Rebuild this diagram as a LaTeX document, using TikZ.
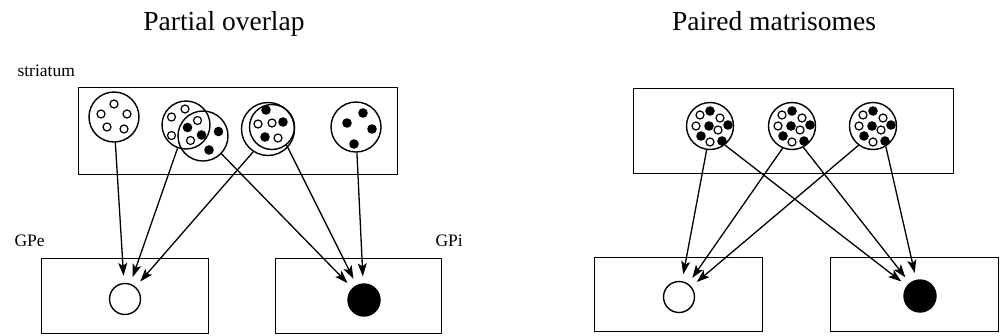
\documentclass[tikz,border=0pt]{standalone}
\usepackage{fontspec}
\setmainfont{Liberation Serif}
\usetikzlibrary{arrows.meta}
\begin{document}
\begin{tikzpicture}[x=1pt,y=-1pt,
  box/.style={draw, line width=1.4pt, inner sep=0pt, anchor=north west},
  patch/.style={draw, circle, line width=1.4pt, inner sep=0pt, minimum size=#1},
  target/.style={draw, circle, line width=1.4pt, inner sep=0pt, minimum size=31pt},
  arr/.style={line width=1.3pt, -{Stealth[length=13pt,width=9pt,inset=3pt]}, shorten >=7pt},
  title/.style={font=\fontsize{27.5}{30}\selectfont, anchor=base},
  lab/.style={font=\fontsize{17.5}{20}\selectfont, anchor=base west},
  wdot/.style={draw, line width=1.2pt, fill=white},
  bdot/.style={fill=black}
]
\useasboundingbox (0,0) rectangle (1000,335);

% titles and labels
\node[title] (t1) at (224,30) {Partial overlap};
\node[title] (t2) at (774,30) {Paired matrisomes};
\node[lab] (ls) at (14,76) {striatum};
\node[lab] (lgpe) at (11,246) {GPe};
\node[lab] (lgpi) at (432,246) {GPi};

% boxes
\node[box, minimum width=319pt, minimum height=87pt] (str1) at (78,87) {};
\node[box, minimum width=167pt, minimum height=75pt] (gpe1) at (41,258) {};
\node[box, minimum width=166pt, minimum height=75pt] (gpi1) at (275,258) {};
\node[box, minimum width=320pt, minimum height=85pt] (str2) at (633,88) {};
\node[box, minimum width=168pt, minimum height=74pt] (gpe2) at (594,257) {};
\node[box, minimum width=168pt, minimum height=74pt] (gpi2) at (830,257) {};

% target neurons
\node[target] (wc1) at (125,299) {};
\node[target, fill=black, minimum size=32pt] (bc1) at (364,300) {};
\node[target] (wc2) at (679,297) {};
\node[target, fill=black, minimum size=32pt] (bc2) at (920,296) {};

% striatal patches, left
\node[patch=50pt] (A) at (114,117) {};
\node[patch=48pt] (B1) at (186,125) {};
\node[patch=50pt] (B2) at (203,136) {};
\node[patch=53pt] (C1) at (268,129) {};
\node[patch=45pt] (C2) at (272,127) {};
\node[patch=50pt] (D) at (356,127) {};

% dots, left
\foreach \p in {(114,104),(101,114),(127,114),(107,127),(124,129),
                (185,109),(171.5,117),(171.5,135.5),(197.5,120.5),(190.5,140.5),
                (258,124),(272,123),(278,138)}
  \draw[wdot] \p circle (4pt);
\foreach \p in {(187.5,127.5),(201.5,135),(218.5,131.5),(209,150),
                (266,110),(283,122),(265,137),
                (363,113),(347,123),(372,129),(354,144)}
  \fill[bdot] \p circle (4.8pt);

% striatal matrisomes, right
\foreach \n/\cx in {E/710,F/792,G/873}{
  \node[patch=47pt] (\n) at (\cx,126) {};
  \begin{scope}[shift={(\cx,126)}]
    \foreach \p in {(-10,-11),(10,-8),(-14,0),(8,4),(0,16)}
      \draw[wdot] \p circle (4pt);
    \foreach \p in {(0,-15),(-1,0),(18,-1),(-9,10),(12,15)}
      \fill[bdot] \p circle (4.8pt);
  \end{scope}
}

% projections, left
\draw[arr] (A.-87) -- (wc1);
\draw[arr] (B1.250) -- (wc1);
\draw[arr] (C1.237.5) -- (wc1);
\draw[arr] (B2.-44) -- (bc1);
\draw[arr] (C2.-51) -- (bc1);
\draw[arr] (D.-88) -- (bc1);

% projections, right
\draw[arr] (E.262) -- (wc2);
\draw[arr] (F.247) -- (wc2);
\draw[arr] (G.233) -- (wc2);
\draw[arr] (E.-52) -- (bc2);
\draw[arr] (F.-62) -- (bc2);
\draw[arr] (G.-58) -- (bc2);
\end{tikzpicture}
\end{document}
